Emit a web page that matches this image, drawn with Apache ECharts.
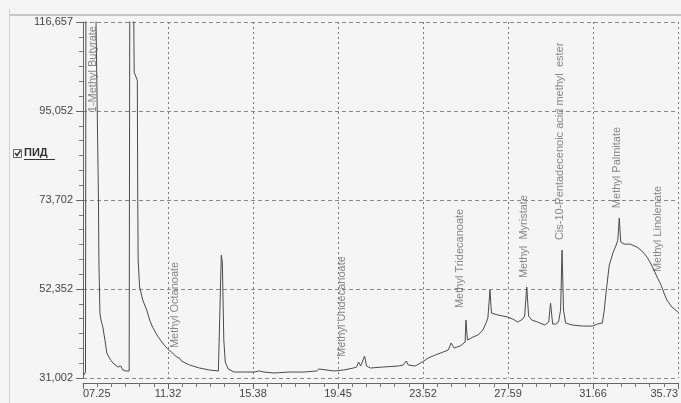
<!DOCTYPE html>
<html>
<head>
<meta charset="utf-8">
<title>ПИД</title>
<script src="https://cdn.jsdelivr.net/npm/echarts@6/dist/echarts.min.js"></script>
<style>
  html, body { margin: 0; padding: 0; background: #f6f5f5; }
  #main { width: 681px; height: 403px; }
</style>
</head>
<body>
<div id="main"></div>
<script>
// retention time (min) and detector signal
var retentionTimes = [
  7.30, 7.37, 7.39, 7.82, 7.87, 7.99, 8.01, 8.06, 8.11, 8.20, 8.30, 8.39,
  8.54, 8.68, 8.92, 9.01, 9.06, 9.15, 9.30, 9.46, 9.49, 9.58, 9.68, 9.70, 9.85, 9.87, 9.89,
  9.96, 10.11, 10.30, 10.44, 10.58, 10.82, 11.06, 11.30, 11.54, 11.73, 11.87, 11.96, 12.35, 12.82, 13.30,
  13.73, 13.80, 13.87, 13.92, 13.99, 14.06, 14.20, 14.49, 14.96, 15.44, 15.68, 15.92, 16.39, 17.11, 17.82,
  18.44, 18.54, 18.63, 19.25, 19.73, 20.20, 20.35, 20.44, 20.54, 20.63, 20.73, 20.82, 21.01, 21.63, 22.35,
  22.58, 22.73, 22.82, 23.15, 23.49, 23.77, 24.11, 24.49, 24.73, 24.87, 25.01, 25.30, 25.54, 25.58, 25.65,
  25.92, 26.15, 26.39, 26.54, 26.63, 26.73, 26.80, 27.11, 27.35, 27.58, 27.82, 28.06, 28.30, 28.39, 28.49,
  28.58, 28.73, 29.01, 29.35, 29.54, 29.63, 29.73, 29.87, 30.01, 30.11, 30.18, 30.25, 30.35, 30.68, 31.15,
  31.63, 31.87, 32.11, 32.20, 32.30, 32.44, 32.63, 32.77, 32.85, 32.92, 32.99, 33.15, 33.44, 33.77, 34.01,
  34.25, 34.49, 34.73, 34.92, 35.06, 35.20, 35.44, 35.73
];
var signal = [
  31720, 32440, 125000, 125000, 117790, 73790, 59370, 46630, 44950, 43260, 40140, 37010,
  35570, 34610, 33650, 34130, 33890, 32930, 32690, 32690, 125000, 125000, 117790, 104560, 102640, 73790, 59370,
  52880, 49750, 47350, 44950, 43260, 41100, 39420, 37970, 37010, 36050, 35810, 35090, 34130, 33410, 32930,
  32690, 32930, 60570, 58890, 40140, 34850, 33170, 32440, 32440, 32440, 32690, 32440, 32200, 32440, 32440,
  32690, 33170, 32690, 32690, 32930, 33410, 33650, 34850, 33890, 34370, 36290, 33890, 33410, 33650, 33890,
  34130, 35090, 34130, 33890, 34850, 35810, 36530, 37250, 37730, 39420, 38210, 38700, 39660, 44950, 40140,
  40860, 41340, 42540, 44220, 45430, 52160, 46630, 46150, 45910, 45670, 45190, 44460, 45190, 45910, 52880,
  45910, 44950, 44460, 43740, 44460, 49030, 43980, 43980, 44460, 47350, 61770, 47350, 44220, 43740, 43500,
  43500, 43980, 44220, 47350, 52160, 58170, 61290, 62980, 64180, 69470, 63700, 63220, 63220, 62490, 61530,
  60090, 57930, 55280, 53360, 51440, 49750, 48070, 46870
];

// peak annotations: name, time, signal level where the text starts
var peakNames = [
  '1-Methyl Butyrate', 'Methyl Octanoate', 'Methyl Undecanoate', 'Methyl Tridecanoate',
  'Methyl  Myristate', 'Cis-10-Pentadecenoic acid methyl  ester', 'Methyl Palmitate', 'Methyl Linolenate'
];
var peakTimes = [7.73, 11.63, 19.63, 25.30, 28.35, 30.06, 32.82, 34.77];
var peakLevels = [94950, 38210, 36050, 47830, 55040, 64180, 71870, 56480];

var xTickLabels = ['07.25', '11.32', '15.38', '19.45', '23.52', '27.59', '31.66', '35.73'];
var yTickLabels = ['31,002', '52,352', '73,702', '95,052', '116,657'];

var xMin = 7.25, xMax = 35.73, xStep = 4.0686;
var yMin = 31002, yMax = 116657, yStep = (yMax - yMin) / 4;

var trace = retentionTimes.map(function (t, i) { return [t, signal[i]]; });
var peaks = peakNames.map(function (n, i) {
  return { name: n, value: [peakTimes[i], peakLevels[i]] };
});

var font = '"Liberation Sans", Arial, sans-serif';
var myChart = echarts.init(document.getElementById('main'));

myChart.setOption({
  animation: false,
  backgroundColor: '#f6f5f5',
  grid: { left: 83, right: 0, top: 22, bottom: 25 },
  xAxis: {
    type: 'value',
    min: xMin,
    max: xMax,
    interval: xStep,
    offset: 5,
    axisLine: { lineStyle: { color: '#666', width: 1 } },
    axisTick: { length: 6, lineStyle: { color: '#666' } },
    minorTick: { show: true, splitNumber: 6, length: 4, lineStyle: { color: '#777' } },
    axisLabel: {
      color: '#444', fontFamily: font, fontSize: 11, margin: 5,
      alignMinLabel: 'left', alignMaxLabel: 'right',
      formatter: function (v) { return xTickLabels[Math.round((v - xMin) / xStep)]; }
    },
    splitLine: { show: true, lineStyle: { color: '#777', type: [2, 3], width: 1 } }
  },
  yAxis: {
    type: 'value',
    min: yMin,
    max: yMax,
    interval: yStep,
    axisLine: { show: true, lineStyle: { color: '#666', width: 1 } },
    axisTick: { show: true, length: 7, lineStyle: { color: '#666' } },
    minorTick: { show: true, splitNumber: 6, length: 4, lineStyle: { color: '#777' } },
    axisLabel: {
      color: '#444', fontFamily: font, fontSize: 11, margin: 10,
      formatter: function (v) { return yTickLabels[Math.round((v - yMin) / yStep)]; }
    },
    splitLine: { show: true, lineStyle: { color: '#888', type: [4, 3], width: 1 } }
  },
  series: [
    {
      name: 'ПИД',
      type: 'line',
      data: trace,
      showSymbol: false,
      clip: true,
      lineStyle: { color: '#4a4a4a', width: 1 }
    },
    {
      type: 'scatter',
      data: peaks,
      symbolSize: 0,
      silent: true,
      label: {
        show: true,
        formatter: '{b}',
        rotate: 90,
        position: 'inside',
        align: 'left',
        verticalAlign: 'middle',
        color: '#6a6a6a',
        fontFamily: font,
        fontSize: 11
      }
    }
  ],
  graphic: [
    { type: 'line', shape: { x1: 9, y1: 15, x2: 681, y2: 15 }, style: { stroke: '#c8c8c8', lineWidth: 2 } },
    { type: 'line', shape: { x1: 9.5, y1: 9, x2: 9.5, y2: 403 }, style: { stroke: '#d0d0d0', lineWidth: 1 } },
    { type: 'rect', shape: { x: 13.5, y: 149.5, width: 8, height: 8 }, style: { fill: '#fff', stroke: '#666', lineWidth: 1 } },
    { type: 'polyline', shape: { points: [[15, 153], [17, 155.5], [20.5, 150.5]] }, style: { stroke: '#333', lineWidth: 1.5, fill: null } },
    { type: 'text', x: 24, y: 153, style: { text: 'ПИД', font: 'bold 11px ' + font, fill: '#333', verticalAlign: 'middle' } },
    { type: 'line', shape: { x1: 24, y1: 159.5, x2: 55, y2: 159.5 }, style: { stroke: '#333', lineWidth: 1 } }
  ]
});
</script>
</body>
</html>
